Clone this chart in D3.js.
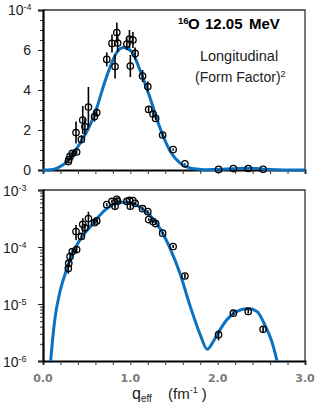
<!DOCTYPE html>
<html lang="en">
    <head>
        <meta charset="utf-8">
        <title>16O 12.05 MeV longitudinal form factor</title>
        <script src="https://d3js.org/d3.v7.min.js"></script>
        <style type="text/css">
            body{
                margin: 0;
                background: #fff;
            }
            svg{
                width: 319px;
                height: 408px;
                display: block;
                font-family: "Liberation Sans", Arial, sans-serif;
            }
        </style>
    </head>
    <body>
        <svg></svg>
        <script type="text/javascript">

            // measured points, q_eff (fm^-1), |F|^2 in units of 1e-4, error in same units
            const qData   = [0.290, 0.295, 0.310, 0.335, 0.385, 0.378, 0.440, 0.455, 0.480, 0.520,
                             0.590, 0.615, 0.730, 0.790, 0.825, 0.845, 0.855, 0.960, 0.990, 1.000,
                             1.030, 1.055, 1.140, 1.200, 1.210, 1.260, 1.290, 1.370, 1.490, 1.625,
                             2.010, 2.180, 2.350, 2.520];
            const ffData  = [0.42, 0.52, 0.68, 0.83, 0.90, 1.87, 1.53, 2.50, 2.17, 3.15,
                             2.67, 2.87, 5.53, 6.33, 5.17, 6.87, 6.35, 6.30, 6.55, 5.20,
                             6.50, 5.83, 4.70, 4.17, 3.03, 2.80, 2.58, 1.75, 1.02, 0.31,
                             0.029, 0.069, 0.074, 0.036];
            const errData = [0.08, 0.08, 0.12, 0.12, 0.12, 0.55, 0.20, 0.70, 0.40, 1.00,
                             0.25, 0.20, 0.35, 0.45, 0.60, 0.50, 0.45, 0.30, 0.45, 0.55,
                             0.40, 0.30, 0.30, 0.25, 0.15, 0.15, 0.10, 0.10, 0.06, 0.03,
                             0.006, 0.006, 0.006, 0.004];

            // calculated curve (same units)
            const qCurve  = [0.00, 0.05, 0.088, 0.137, 0.195, 0.27, 0.367, 0.48, 0.54, 0.615,
                             0.70, 0.77, 0.84, 0.92, 1.016, 1.11, 1.226, 1.34, 1.455, 1.57,
                             1.68, 1.80, 1.88, 1.95, 2.01, 2.10, 2.22, 2.35, 2.45, 2.54,
                             2.62, 2.68, 2.75, 3.00];
            const ffCurve = [0, 0.0015, 0.010, 0.056, 0.166, 0.40, 0.95, 1.75, 2.25, 3.1,
                             4.3, 5.17, 5.85, 6.12, 5.92, 5.0, 3.6, 2.1, 0.95, 0.34,
                             0.097, 0.029, 0.016, 0.022, 0.032, 0.052, 0.074, 0.083, 0.074, 0.043,
                             0.022, 0.010, 0.003, 0];

            const xTicks = [0, 1, 2, 3];
            const linTicks = [0, 2, 4, 6];
            const logExps = [-6, -5, -4, -3];

            const points = qData.map((q, i) => ({q: q, v: ffData[i], e: errData[i]}));
            const curve = qCurve.map((q, i) => ({q: q, v: ffCurve[i]}));

            const svg = d3.select("svg");
            const left = 43, right = 305;
            const blue = "#0b72c2";

            const x = d3.scaleLinear().domain([0, 3]).range([left, right]);
            const yTop = d3.scaleLinear().domain([0, 8]).range([170, 10]);
            const yBot = d3.scaleLog().domain([1e-6, 1e-3]).range([361, 190]);

            svg.append("clipPath").attr("id", "clipBot")
                .append("rect").attr("x", left).attr("y", 190).attr("width", right - left).attr("height", 171);
            svg.append("clipPath").attr("id", "clipTop")
                .append("rect").attr("x", left).attr("y", 8).attr("width", right - left).attr("height", 164);

            function frame(y0, y1) {
                svg.append("path")
                    .attr("d", `M${left},${y0}H${right}V${y1}`)
                    .attr("fill", "none")
                    .attr("stroke", "#333")
                    .attr("stroke-width", 1.3);
            }

            function xAxis(y0, labels) {
                const g = svg.append("g")
                            .attr("transform", `translate(0,${y0})`)
                            .call(d3.axisBottom(x).tickValues(d3.range(0, 3.01, 0.2)).tickSize(4).tickFormat(""));
                g.select(".domain").attr("stroke", "#000").attr("stroke-width", 1.8);
                g.selectAll(".tick line").attr("stroke", "#333").attr("stroke-width", 1);
                if (labels) {
                    svg.selectAll(".xlab")
                        .data(xTicks)
                        .join("text")
                        .attr("class", "xlab")
                        .attr("x", d => x(d))
                        .attr("y", 382)
                        .attr("text-anchor", "middle")
                        .attr("font-family", "DejaVu Sans")
                        .attr("font-weight", "bold")
                        .attr("font-size", 11)
                        .attr("fill", "#7a7a7a")
                        .text(d => d.toFixed(1));
                }
            }

            // ---- top panel (linear) ----
            frame(10, 170);
            xAxis(170, false);

            const minorTop = svg.append("g").attr("transform", `translate(${left},0)`)
                                .call(d3.axisLeft(yTop).tickValues(d3.range(0, 8.01, 0.5)).tickSize(3).tickFormat(""));
            minorTop.selectAll(".tick line").attr("stroke", "#333");
            const majorTop = svg.append("g").attr("transform", `translate(${left},0)`)
                                .call(d3.axisLeft(yTop).tickValues([0, 2, 4, 6, 8]).tickSize(5).tickFormat(""));
            majorTop.selectAll(".tick line").attr("stroke", "#222");
            minorTop.select(".domain").remove();
            majorTop.select(".domain").attr("stroke", "#000").attr("stroke-width", 2.2);

            svg.selectAll(".ylabTop")
                .data(linTicks)
                .join("text")
                .attr("class", "ylabTop")
                .attr("x", 31)
                .attr("y", d => yTop(d) + 5)
                .attr("text-anchor", "end")
                .attr("font-size", 14)
                .attr("fill", "#222")
                .text(d => d);

            const t4 = svg.append("text").attr("x", 8).attr("y", 15).attr("font-size", 14).attr("fill", "#222");
            t4.append("tspan").text("10");
            t4.append("tspan").attr("dy", -5).attr("font-size", 9).text("-4");

            const lineTop = d3.line()
                                .x(d => x(d.q))
                                .y(d => yTop(d.v))
                                .curve(d3.curveMonotoneX);

            svg.append("path")
                .datum(curve)
                .attr("clip-path", "url(#clipTop)")
                .attr("d", lineTop)
                .attr("fill", "none")
                .attr("stroke", blue)
                .attr("stroke-width", 3);

            svg.append("g").selectAll("line")
                .data(points)
                .join("line")
                .attr("x1", d => x(d.q)).attr("x2", d => x(d.q))
                .attr("y1", d => yTop(d.v - d.e)).attr("y2", d => yTop(d.v + d.e))
                .attr("stroke", "#000").attr("stroke-width", 1.6);

            svg.append("g").selectAll("circle")
                .data(points)
                .join("circle")
                .attr("cx", d => x(d.q))
                .attr("cy", d => yTop(d.v))
                .attr("r", 3.2)
                .attr("fill", "none")
                .attr("stroke", "#000")
                .attr("stroke-width", 1.3);

            // title texts
            const title = svg.append("text").attr("y", 29).attr("font-weight", "bold").attr("font-size", 15).attr("fill", "#000");
            title.append("tspan").attr("x", 178).attr("dy", -5).attr("font-size", 9.5).text("16");
            title.append("tspan").attr("x", 188).attr("dy", 5).text("O");
            title.append("tspan").attr("x", 205).text("12.05");
            title.append("tspan").attr("x", 249).text("MeV");

            svg.append("text")
                .attr("x", 239).attr("y", 61)
                .attr("text-anchor", "middle")
                .attr("font-size", 14.5)
                .attr("fill", "#222")
                .text("Longitudinal");

            const ff = svg.append("text").attr("x", 195).attr("y", 82).attr("font-size", 14).attr("fill", "#222");
            ff.append("tspan").text("(Form Factor)");
            ff.append("tspan").attr("dy", -5).attr("font-size", 9).text("2");

            // ---- bottom panel (log) ----
            frame(190, 361);
            xAxis(361, true);

            const minorVals = [];
            logExps.slice(0, 3).forEach(p => d3.range(2, 10).forEach(k => minorVals.push(k * Math.pow(10, p))));
            const minorBot = svg.append("g").attr("transform", `translate(${left},0)`)
                                .call(d3.axisLeft(yBot).tickValues(minorVals).tickSize(3).tickFormat(""));
            minorBot.select(".domain").remove();
            minorBot.selectAll(".tick line").attr("stroke", "#333");
            const majorBot = svg.append("g").attr("transform", `translate(${left},0)`)
                                .call(d3.axisLeft(yBot).tickValues(logExps.map(p => Math.pow(10, p))).tickSize(5).tickFormat(""));
            majorBot.select(".domain").attr("stroke", "#000").attr("stroke-width", 2.2);
            majorBot.selectAll(".tick line").attr("stroke", "#222");

            const ylabBot = svg.selectAll(".ylabBot")
                .data(logExps)
                .join("text")
                .attr("class", "ylabBot")
                .attr("x", 3)
                .attr("y", d => yBot(Math.pow(10, d)) + 6)
                .attr("font-size", 14)
                .attr("fill", "#222");
            ylabBot.append("tspan").text("10");
            ylabBot.append("tspan").attr("dy", -5).attr("font-size", 9).text(d => d);

            const lineBot = d3.line()
                                .defined(d => d.v > 0)
                                .x(d => x(d.q))
                                .y(d => yBot(d.v * 1e-4))
                                .curve(d3.curveMonotoneX);

            svg.append("path")
                .datum(curve)
                .attr("clip-path", "url(#clipBot)")
                .attr("d", lineBot)
                .attr("fill", "none")
                .attr("stroke", blue)
                .attr("stroke-width", 3);

            svg.append("g").selectAll("line")
                .data(points)
                .join("line")
                .attr("x1", d => x(d.q)).attr("x2", d => x(d.q))
                .attr("y1", d => yBot((d.v - d.e) * 1e-4)).attr("y2", d => yBot((d.v + d.e) * 1e-4))
                .attr("stroke", "#000").attr("stroke-width", 1.6);

            svg.append("g").selectAll("circle")
                .data(points)
                .join("circle")
                .attr("cx", d => x(d.q))
                .attr("cy", d => yBot(d.v * 1e-4))
                .attr("r", 3.2)
                .attr("fill", "none")
                .attr("stroke", "#000")
                .attr("stroke-width", 1.3);

            // x axis title
            const xt = svg.append("text").attr("y", 399).attr("font-size", 16).attr("fill", "#222");
            xt.append("tspan").attr("x", 132).text("q");
            xt.append("tspan").attr("dy", 3).attr("font-size", 10).text("eff");
            xt.append("tspan").attr("x", 168).attr("dy", -3).attr("font-size", 15).text("(fm");
            xt.append("tspan").attr("dy", -6).attr("font-size", 9).text("-1");
            xt.append("tspan").attr("dy", 6).attr("font-size", 15).text(" )");

        </script>
    </body>
</html>
